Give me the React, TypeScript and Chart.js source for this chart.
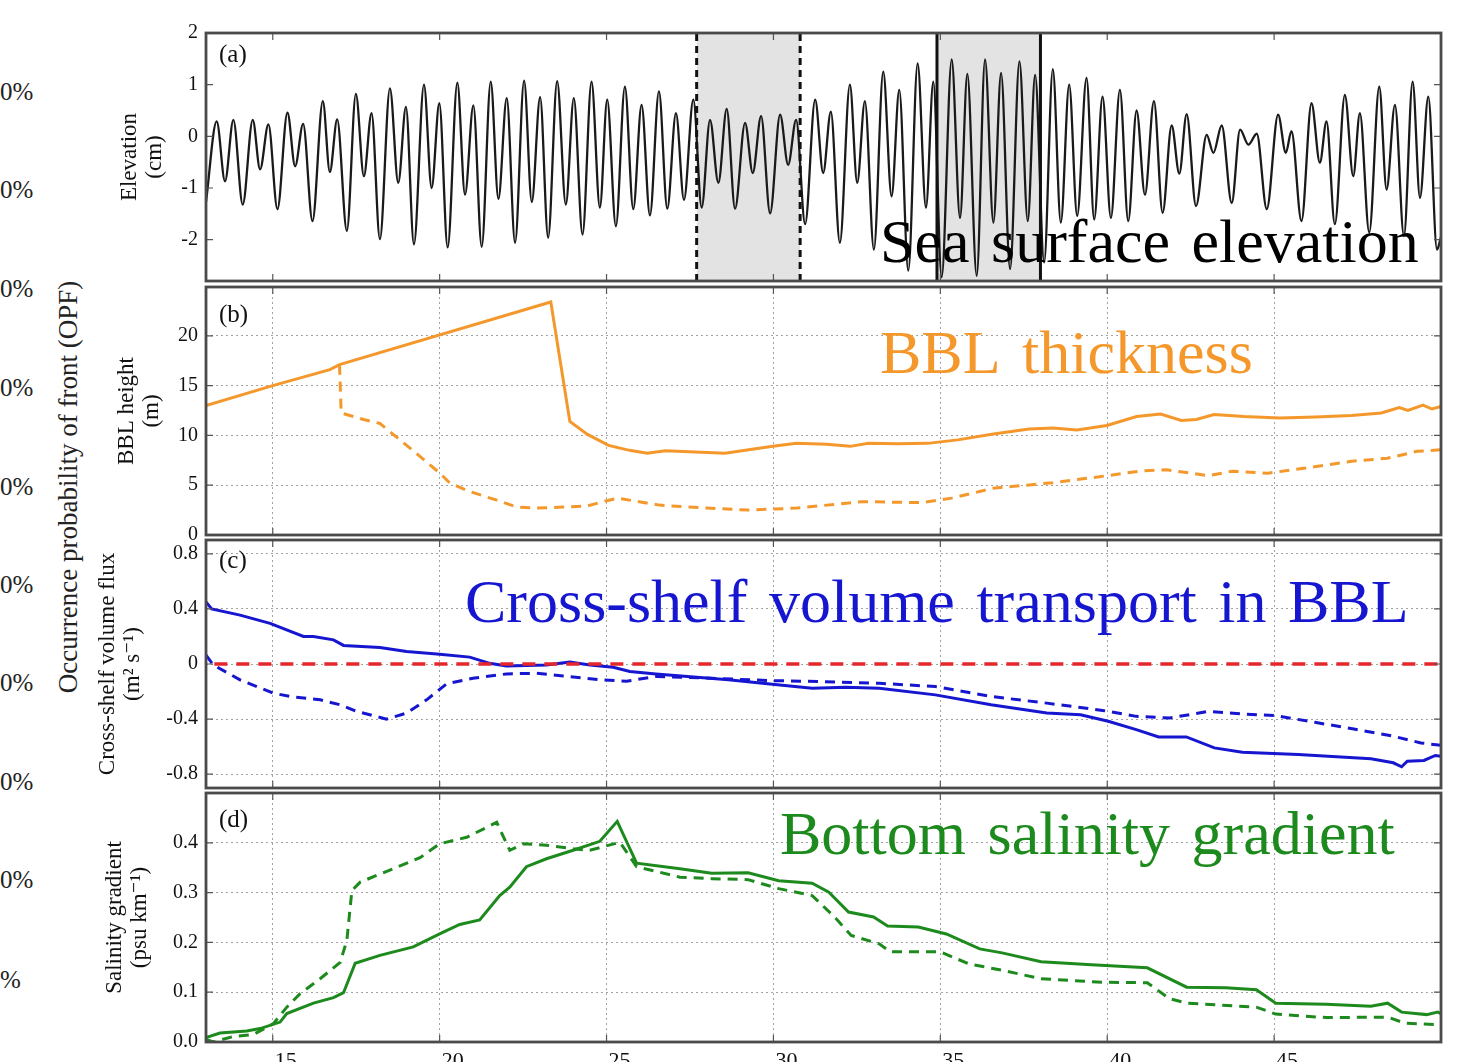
import React, { useEffect, useRef } from "react";
import { Chart, registerables } from "chart.js";

Chart.register(...registerables);

// ---------------- data ----------------
const X_MIN = 13;
const X_MAX = 50;
const xTicks = [15, 20, 25, 30, 35, 40, 45];
const xTickLabels = ["15", "20", "25", "30", "35", "40", "45"];

// (a) sea surface elevation: times of successive highs / lows and their values
const elevDays = [
  13.0, 13.32, 13.57, 13.82, 14.1, 14.4, 14.62, 14.87, 15.14, 15.44, 15.67, 15.91, 16.19, 16.5, 16.71, 16.93,
  17.22, 17.49, 17.73, 17.96, 18.21, 18.51, 18.76, 18.99, 19.23, 19.53, 19.76, 19.99, 20.24, 20.53, 20.76, 21.01,
  21.26, 21.53, 21.76, 22.01, 22.26, 22.53, 22.76, 23.01, 23.25, 23.52, 23.78, 24.02, 24.28, 24.55, 24.8, 25.02,
  25.28, 25.55, 25.8, 26.05, 26.3, 26.57, 26.82, 27.08, 27.32, 27.6, 27.85, 28.1, 28.35, 28.6, 28.85, 29.15,
  29.38, 29.63, 29.9, 30.2, 30.44, 30.68, 30.95, 31.25, 31.49, 31.72, 31.99, 32.29, 32.51, 32.74, 33.01, 33.29,
  33.54, 33.77, 34.04, 34.32, 34.57, 34.79, 35.04, 35.34, 35.59, 35.81, 36.09, 36.34, 36.59, 36.82, 37.09, 37.37,
  37.62, 37.84, 38.11, 38.37, 38.61, 38.86, 39.1, 39.38, 39.61, 39.86, 40.11, 40.38, 40.63, 40.88, 41.13, 41.4,
  41.66, 41.93, 42.16, 42.38, 42.66, 42.98, 43.18, 43.43, 43.73, 43.98, 44.23, 44.48, 44.78, 45.12, 45.35, 45.52,
  45.82, 46.12, 46.37, 46.57, 46.82, 47.12, 47.37, 47.57, 47.85, 48.15, 48.37, 48.62, 48.89, 49.15, 49.37, 49.62,
  49.88, 50.0,
];
const elevValues = [
  -1.27, 0.29, -0.87, 0.32, -1.32, 0.32, -0.64, 0.23, -1.41, 0.46, -0.58, 0.24, -1.64, 0.68, -0.69, 0.33,
  -1.83, 0.82, -0.77, 0.45, -1.99, 0.93, -0.9, 0.57, -2.09, 1.0, -1.0, 0.64, -2.15, 1.04, -1.13, 0.6,
  -2.14, 1.06, -1.21, 0.74, -2.06, 1.08, -1.27, 0.76, -1.96, 1.07, -1.32, 0.74, -1.9, 1.06, -1.38, 0.71,
  -1.74, 0.96, -1.41, 0.61, -1.53, 0.87, -1.4, 0.45, -1.23, 0.71, -1.38, 0.32, -0.9, 0.53, -1.4, 0.26,
  -0.71, 0.39, -1.49, 0.42, -0.55, 0.32, -1.7, 0.71, -0.71, 0.48, -2.06, 1.0, -0.9, 0.68, -2.19, 1.25,
  -1.16, 0.9, -2.6, 1.41, -1.38, 1.06, -2.73, 1.49, -1.58, 1.21, -2.7, 1.49, -1.67, 1.23, -2.57, 1.45,
  -1.64, 1.19, -2.44, 1.3, -1.67, 1.0, -1.54, 1.13, -1.61, 0.77, -1.58, 0.9, -1.64, 0.5, -1.13, 0.68,
  -1.48, 0.21, -0.72, 0.43, -1.35, 0.03, -0.32, 0.21, -1.29, 0.13, -0.16, 0.05, -1.41, 0.42, -0.32, 0.1,
  -1.64, 0.64, -0.51, 0.29, -1.7, 0.8, -0.77, 0.45, -1.86, 0.96, -1.03, 0.61, -1.93, 1.06, -1.19, 0.77,
  -2.19, -1.95,
];
const elevTicks = [-2, -1, 0, 1, 2];
const elevTickLabels = ["-2", "-1", "0", "1", "2"];
const neapWindow = [27.7, 30.8];
const springWindow = [34.9, 38.0];

// (b) BBL thickness
const bblSolidDays = [
  13.0, 15.0, 16.71, 17.0, 23.33, 23.9, 24.43, 25.06, 25.69, 26.22, 26.76, 27.47, 28.55, 29.26, 29.98, 30.69,
  31.59, 32.3, 32.84, 33.73, 34.62, 35.52, 36.59, 37.66, 38.38, 39.09, 39.99, 40.88, 41.6, 42.22, 42.67, 43.2,
  44.1, 45.17, 46.24, 47.32, 48.21, 48.75, 49.01, 49.46, 49.73, 50.0,
];
const bblSolid = [
  13.0, 15.0, 16.6, 17.1, 23.4, 11.4, 10.1, 9.0, 8.5, 8.2, 8.45, 8.35, 8.2, 8.55, 8.9, 9.2,
  9.1, 8.9, 9.2, 9.15, 9.2, 9.55, 10.15, 10.65, 10.75, 10.55, 11.0, 11.9, 12.15, 11.5, 11.6, 12.1,
  11.9, 11.75, 11.85, 12.0, 12.25, 12.8, 12.5, 13.05, 12.65, 12.9,
];
const bblDashedDays = [
  17.0, 17.05, 17.72, 18.21, 18.81, 19.41, 20.01, 20.31, 20.91, 21.71, 22.31, 22.9, 23.7, 24.4, 24.9, 25.33,
  26.58, 28.0, 29.26, 30.69, 32.66, 34.45, 35.34, 36.59, 38.38, 39.99, 41.06, 41.78, 43.03, 43.74, 44.81, 45.89,
  47.32, 48.39, 49.28, 50.0,
];
const bblDashed = [
  17.1, 12.25, 11.6, 11.2, 9.55, 7.9, 6.2, 5.2, 4.35, 3.5, 2.8, 2.7, 2.8, 2.9, 3.35, 3.7,
  3.0, 2.7, 2.5, 2.7, 3.35, 3.25, 3.7, 4.7, 5.25, 5.95, 6.45, 6.55, 5.95, 6.4, 6.2, 6.7,
  7.4, 7.7, 8.4, 8.55,
];
const bblTicks = [0, 5, 10, 15, 20];
const bblTickLabels = ["0", "5", "10", "15", "20"];

// (c) cross-shelf volume flux
const fluxSolidDays = [
  13.0, 13.17, 14.02, 14.92, 15.92, 16.22, 16.82, 17.12, 18.21, 19.01, 20.0, 20.9, 21.5, 22.0, 23.2, 23.9,
  24.5, 25.2, 25.7, 26.48, 28.65, 29.82, 31.16, 32.17, 33.17, 34.85, 36.52, 38.19, 39.2, 40.03, 40.87, 41.54,
  42.37, 43.21, 44.05, 45.72, 47.9, 48.57, 48.82, 48.99, 49.49, 49.83, 50.0,
];
const fluxSolid = [
  0.45, 0.4, 0.355, 0.295, 0.2, 0.2, 0.175, 0.135, 0.12, 0.09, 0.07, 0.05, 0.005, -0.015, -0.007, 0.014,
  -0.007, -0.024, -0.055, -0.072, -0.115, -0.144, -0.176, -0.168, -0.176, -0.224, -0.296, -0.356, -0.368, -0.416, -0.476, -0.529,
  -0.529, -0.609, -0.64, -0.657, -0.688, -0.717, -0.746, -0.705, -0.7, -0.664, -0.669,
];
const fluxDashedDays = [
  13.0, 13.22, 14.02, 15.02, 15.52, 16.42, 17.02, 17.52, 18.41, 19.01, 19.61, 20.21, 21.0, 22.0, 22.9, 23.7,
  24.8, 25.6, 26.5, 28.15, 29.82, 31.5, 33.17, 34.85, 36.52, 38.19, 39.86, 40.87, 41.87, 43.04, 44.05, 45.05,
  46.22, 47.39, 48.57, 49.4, 50.0,
];
const fluxDashed = [
  0.065, -0.007, -0.115, -0.212, -0.236, -0.26, -0.296, -0.344, -0.4, -0.356, -0.26, -0.144, -0.103, -0.072, -0.067, -0.087,
  -0.115, -0.125, -0.09, -0.103, -0.12, -0.128, -0.14, -0.164, -0.236, -0.284, -0.337, -0.38, -0.392, -0.344, -0.363, -0.375,
  -0.423, -0.472, -0.524, -0.573, -0.59,
];
const zeroLineDays = [13.25, 50.0];
const zeroLine = [0, 0];
const fluxTicks = [-0.8, -0.4, 0, 0.4, 0.8];
const fluxTickLabels = ["-0.8", "-0.4", "0", "0.4", "0.8"];

// (d) bottom salinity gradient
const salSolidDays = [
  13.0, 13.42, 14.22, 14.62, 15.22, 15.42, 16.22, 16.82, 17.12, 17.47, 18.21, 19.21, 20.0, 20.6, 21.2, 21.8,
  22.1, 22.6, 23.2, 24.0, 24.8, 25.32, 25.9, 27.2, 28.15, 29.24, 30.16, 31.16, 31.66, 32.25, 33.0, 33.42,
  34.34, 35.18, 36.18, 36.85, 38.02, 39.53, 41.2, 42.38, 43.55, 44.47, 45.05, 46.56, 47.9, 48.4, 48.82, 49.57,
  49.9, 50.0,
];
const salSolid = [
  0.009, 0.018, 0.022, 0.027, 0.04, 0.057, 0.078, 0.089, 0.099, 0.158, 0.174, 0.191, 0.217, 0.236, 0.245, 0.294,
  0.311, 0.352, 0.368, 0.385, 0.403, 0.443, 0.359, 0.348, 0.339, 0.34, 0.324, 0.319, 0.301, 0.261, 0.251, 0.233,
  0.231, 0.217, 0.187, 0.179, 0.161, 0.155, 0.149, 0.11, 0.109, 0.105, 0.078, 0.076, 0.072, 0.078, 0.06, 0.055,
  0.06, 0.057,
];
const salDashedDays = [
  13.0, 13.22, 13.82, 14.42, 15.02, 15.42, 15.82, 16.42, 17.02, 17.22, 17.37, 17.62, 18.61, 19.41, 20.0, 20.81,
  21.71, 22.1, 22.51, 23.2, 24.0, 24.5, 25.4, 25.9, 27.2, 28.15, 29.24, 30.16, 31.16, 31.83, 32.33, 33.17,
  33.5, 35.0, 35.85, 36.85, 38.02, 39.86, 41.2, 41.87, 42.38, 44.47, 45.05, 46.56, 48.4, 48.91, 49.9,
];
const salDashed = [
  0.005, 0.0, 0.011, 0.015, 0.037, 0.07, 0.097, 0.127, 0.16, 0.204, 0.304, 0.321, 0.348, 0.37, 0.398, 0.411,
  0.441, 0.385, 0.398, 0.395, 0.388, 0.385, 0.401, 0.352, 0.331, 0.328, 0.326, 0.308, 0.294, 0.251, 0.214, 0.197,
  0.181, 0.181, 0.157, 0.144, 0.127, 0.12, 0.119, 0.087, 0.078, 0.07, 0.056, 0.049, 0.05, 0.038, 0.035,
];
const salTicks = [0, 0.1, 0.2, 0.3, 0.4];
const salTickLabels = ["0.0", "0.1", "0.2", "0.3", "0.4"];

// side strip (remnant of a neighbouring chart)
const opfTickLabels = ["0%", "0%", "0%", "0%", "0%", "0%", "0%", "0%", "0%", "0%", "%"];

// ---------------- styling ----------------
const SERIF = "'Liberation Serif', 'DejaVu Serif', serif";
const ORANGE = "#F5982C";
const BLUE = "#1616D0";
const GREEN = "#1D8A1D";
const RED = "#E5262B";
const PAD = 40;
const X_AXIS_H = 34;

const zip = (xs: number[], ys: number[]) => xs.map((x, i) => ({ x, y: ys[i] }));

const framePlugin = {
  id: "frame",
  afterDatasetsDraw(chart: any, _args: any, opts: any) {
    const { ctx, chartArea: a } = chart;
    ctx.save();
    ctx.fillStyle = opts.noteColor;
    ctx.font = `62px ${SERIF}`;
    try {
      (ctx as any).wordSpacing = "6px";
    } catch (e) {}
    ctx.textBaseline = "alphabetic";
    ctx.textAlign = "left";
    ctx.fillText(opts.note, a.left + opts.noteDx, a.top + opts.noteDy);
    try {
      (ctx as any).wordSpacing = "0px";
    } catch (e) {}
    ctx.fillStyle = "#111";
    ctx.font = `25px ${SERIF}`;
    ctx.textBaseline = "middle";
    ctx.fillText(opts.label, a.left + 13, a.top + opts.labelDy);
    ctx.restore();
  },
  afterDraw(chart: any, _args: any, opts: any) {
    const { ctx, chartArea: a, scales } = chart;
    ctx.save();
    ctx.strokeStyle = "#555";
    ctx.lineWidth = 1.2;
    ctx.beginPath();
    (opts.yTicks as number[]).forEach((v) => {
      const y = scales.y.getPixelForValue(v);
      ctx.moveTo(a.left, y);
      ctx.lineTo(a.left + 7, y);
      ctx.moveTo(a.right, y);
      ctx.lineTo(a.right - 7, y);
    });
    xTicks.forEach((v) => {
      const x = scales.x.getPixelForValue(v);
      ctx.moveTo(x, a.bottom);
      ctx.lineTo(x, a.bottom - 7);
      ctx.moveTo(x, a.top);
      ctx.lineTo(x, a.top + 7);
    });
    ctx.stroke();
    ctx.strokeStyle = "#4a4a4a";
    ctx.lineWidth = 2.8;
    ctx.strokeRect(a.left, a.top, a.right - a.left, a.bottom - a.top);
    ctx.restore();
  },
};

interface PanelSpec {
  top: number;
  height: number;
  yMin: number;
  yMax: number;
  yTicks: number[];
  yTickLabels: string[];
  title: string[];
  titlePad: number;
  grid: boolean;
  showX: boolean;
  datasets: any[];
  label: string;
  labelDy: number;
  note: string;
  noteColor: string;
  noteDx: number;
  noteDy: number;
}

const line = (data: any[], color: string, dashed: boolean, extra: any = {}) => ({
  data,
  borderColor: color,
  borderWidth: 3,
  borderDash: dashed ? [10, 7] : [],
  pointRadius: 0,
  tension: 0,
  fill: false,
  ...extra,
});

const panels: PanelSpec[] = [
  {
    top: 33,
    height: 248,
    yMin: -2.8,
    yMax: 2,
    yTicks: elevTicks,
    yTickLabels: elevTickLabels,
    title: ["Elevation", "(cm)"],
    titlePad: 117,
    grid: false,
    showX: false,
    label: "(a)",
    labelDy: 22,
    note: "Sea surface elevation",
    noteColor: "#000",
    noteDx: 674,
    noteDy: 229,
    datasets: [
      {
        data: [
          { x: neapWindow[0], y: 2 },
          { x: neapWindow[1], y: 2 },
        ],
        fill: "start",
        backgroundColor: "#e3e3e3",
        borderWidth: 0,
        pointRadius: 0,
        order: 10,
      },
      {
        data: [
          { x: springWindow[0], y: 2 },
          { x: springWindow[1], y: 2 },
        ],
        fill: "start",
        backgroundColor: "#e3e3e3",
        borderWidth: 0,
        pointRadius: 0,
        order: 10,
      },
      line(zip(elevDays, elevValues), "#1a1a1a", false, { borderWidth: 2.3, cubicInterpolationMode: "monotone", order: 2 }),
      ...neapWindow.map((d) =>
        line(
          [
            { x: d, y: -2.8 },
            { x: d, y: 2 },
          ],
          "#111",
          true,
          { borderDash: [7, 5], borderWidth: 3, order: 1 }
        )
      ),
      ...springWindow.map((d) =>
        line(
          [
            { x: d, y: -2.8 },
            { x: d, y: 2 },
          ],
          "#111",
          false,
          { borderWidth: 3, order: 1 }
        )
      ),
    ],
  },
  {
    top: 287,
    height: 248,
    yMin: 0,
    yMax: 24.9,
    yTicks: bblTicks,
    yTickLabels: bblTickLabels,
    title: ["BBL height", "(m)"],
    titlePad: 114,
    grid: true,
    showX: false,
    label: "(b)",
    labelDy: 28,
    note: "BBL thickness",
    noteColor: ORANGE,
    noteDx: 674,
    noteDy: 86,
    datasets: [line(zip(bblSolidDays, bblSolid), ORANGE, false), line(zip(bblDashedDays, bblDashed), ORANGE, true)],
  },
  {
    top: 540,
    height: 248,
    yMin: -0.9,
    yMax: 0.9,
    yTicks: fluxTicks,
    yTickLabels: fluxTickLabels,
    title: ["Cross-shelf volume flux", "(m² s⁻¹)"],
    titlePad: 95,
    grid: true,
    showX: false,
    label: "(c)",
    labelDy: 21,
    note: "Cross-shelf volume transport in BBL",
    noteColor: BLUE,
    noteDx: 259,
    noteDy: 82,
    datasets: [
      line(zip(zeroLineDays, zeroLine), RED, true, { borderDash: [13, 9], borderWidth: 3.5, order: 0 }),
      line(zip(fluxSolidDays, fluxSolid), BLUE, false, { order: 2 }),
      line(zip(fluxDashedDays, fluxDashed), BLUE, true, { order: 2 }),
    ],
  },
  {
    top: 793,
    height: 249,
    yMin: 0,
    yMax: 0.5,
    yTicks: salTicks,
    yTickLabels: salTickLabels,
    title: ["Salinity gradient", "(psu km⁻¹)"],
    titlePad: 102,
    grid: true,
    showX: true,
    label: "(d)",
    labelDy: 27,
    note: "Bottom salinity gradient",
    noteColor: GREEN,
    noteDx: 574,
    noteDy: 61,
    datasets: [line(zip(salSolidDays, salSolid), GREEN, false), line(zip(salDashedDays, salDashed), GREEN, true)],
  },
];

function makeConfig(spec: PanelSpec): any {
  const gridOpts = { display: spec.grid, drawTicks: false, color: "#a3a3a3", lineWidth: 1 };
  return {
    type: "line",
    data: { datasets: spec.datasets },
    plugins: [framePlugin],
    options: {
      animation: false,
      responsive: false,
      maintainAspectRatio: false,
      events: [],
      layout: {
        padding: { left: 0, right: 33, top: PAD, bottom: spec.showX ? PAD - X_AXIS_H : PAD },
      },
      plugins: {
        legend: { display: false },
        tooltip: { enabled: false },
        frame: {
          label: spec.label,
          labelDy: spec.labelDy,
          note: spec.note,
          noteColor: spec.noteColor,
          noteDx: spec.noteDx,
          noteDy: spec.noteDy,
          yTicks: spec.yTicks,
        },
      },
      scales: {
        x: {
          type: "linear",
          min: X_MIN,
          max: X_MAX,
          afterBuildTicks: (s: any) => {
            s.ticks = xTicks.map((v) => ({ value: v }));
          },
          afterFit: (s: any) => {
            s.height = spec.showX ? X_AXIS_H : 0;
          },
          ticks: {
            display: spec.showX,
            padding: 6,
            labelOffset: 13,
            maxRotation: 0,
            autoSkip: false,
            color: "#111",
            font: { family: SERIF, size: 22 },
            callback: (_v: any, i: number) => xTickLabels[i],
          },
          grid: gridOpts,
          border: { display: false, dash: [2, 3] },
        },
        y: {
          type: "linear",
          min: spec.yMin,
          max: spec.yMax,
          afterBuildTicks: (s: any) => {
            s.ticks = spec.yTicks.map((v) => ({ value: v }));
          },
          afterFit: (s: any) => {
            s.width = 206;
          },
          ticks: {
            padding: 8,
            autoSkip: false,
            color: "#111",
            font: { family: SERIF, size: 20 },
            callback: (_v: any, i: number) => spec.yTickLabels[i],
          },
          grid: gridOpts,
          border: { display: false, dash: [2, 3] },
          title: {
            display: true,
            text: spec.title,
            color: "#111",
            font: { family: SERIF, size: 23, lineHeight: 1.1 },
            padding: { top: spec.titlePad, bottom: 0 },
          },
        },
      },
    },
  };
}

function Panel({ spec }: { spec: PanelSpec }) {
  const ref = useRef<HTMLCanvasElement | null>(null);
  const h = spec.height + 2 * PAD;
  useEffect(() => {
    if (!ref.current) return;
    const chart = new Chart(ref.current, makeConfig(spec));
    return () => chart.destroy();
  }, []);
  return (
    <canvas
      ref={ref}
      width={1474}
      height={h}
      style={{ position: "absolute", left: 0, top: spec.top - PAD, width: 1474, height: h }}
    />
  );
}

export default function App() {
  useEffect(() => {
    document.body.style.margin = "0";
  }, []);
  const opfCenters = [-8, 92, 190, 289, 388, 487, 585, 683, 782, 880, 980];
  return (
    <div
      style={{
        position: "absolute",
        left: 0,
        top: 0,
        width: 1474,
        height: 1062,
        overflow: "hidden",
        background: "#fff",
        fontFamily: SERIF,
      }}
    >
      {opfTickLabels.map((t, i) => (
        <div
          key={i}
          style={{
            position: "absolute",
            left: 0,
            top: opfCenters[i] - 13,
            fontSize: 25,
            lineHeight: "26px",
            color: "#222",
          }}
        >
          {t}
        </div>
      ))}
      <div
        style={{
          position: "absolute",
          left: 68,
          top: 487,
          transform: "translate(-50%, -50%) rotate(-90deg)",
          whiteSpace: "nowrap",
          fontSize: 27,
          lineHeight: "30px",
          color: "#222",
        }}
      >
        Occurrence probability of front (OPF)
      </div>
      {panels.map((p, i) => (
        <Panel key={i} spec={p} />
      ))}
    </div>
  );
}
